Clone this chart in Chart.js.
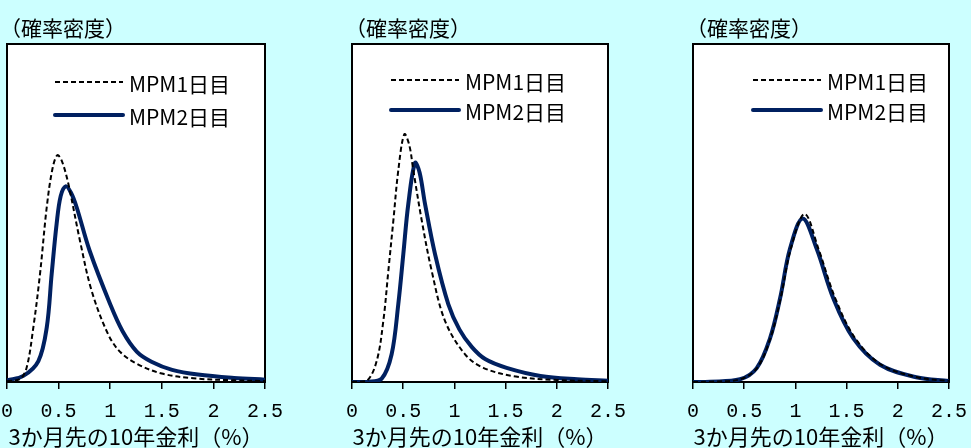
<!DOCTYPE html>
<html>
<head>
<meta charset="utf-8">
<script src="https://cdn.jsdelivr.net/npm/chart.js@4.4.0/dist/chart.umd.min.js"></script>
<style>
  html, body { margin: 0; padding: 0; background: #ccffff; width: 971px; height: 448px; overflow: hidden; }
  .panel { position: absolute; top: 0; height: 448px; }
</style>
</head>
<body>
<div class="panel" style="left:0;width:330px"><canvas id="chart1"></canvas></div>
<div class="panel" style="left:345px;width:330px"><canvas id="chart2"></canvas></div>
<div class="panel" style="left:686px;width:285px"><canvas id="chart3"></canvas></div>
<script>
/* data (density in units of plot height) */
const seriesNames = ["MPM1日目", "MPM2日目"];
const xTicks = [0, 0.5, 1, 1.5, 2, 2.5];
const yLabel = "（確率密度）";
const xLabel = "3か月先の10年金利（%）";

// panel 1
const p1Day1X = [0, 0.126, 0.19, 0.255, 0.32, 0.385, 0.44, 0.487, 0.53, 0.594, 0.707, 0.82, 0.98, 1.1, 1.257, 1.5, 1.805, 2.2, 2.5];
const p1Day1Y = [0.002, 0.009, 0.042, 0.161, 0.32, 0.517, 0.63, 0.671, 0.655, 0.587, 0.418, 0.27, 0.141, 0.088, 0.054, 0.025, 0.011, 0.005, 0.003];
const p1Day2X = [0, 0.158, 0.304, 0.385, 0.433, 0.481, 0.52, 0.569, 0.62, 0.675, 0.8, 1.0, 1.12, 1.257, 1.4, 1.6, 1.85, 2.2, 2.5];
const p1Day2Y = [0.005, 0.018, 0.062, 0.161, 0.32, 0.468, 0.55, 0.579, 0.56, 0.517, 0.389, 0.23, 0.15, 0.09, 0.06, 0.036, 0.022, 0.012, 0.007];

// panel 2
const p2Day1X = [0, 0.143, 0.241, 0.306, 0.355, 0.404, 0.452, 0.511, 0.56, 0.599, 0.681, 0.778, 0.908, 1.104, 1.282, 1.6, 2.0, 2.5];
const p2Day1Y = [0, 0.003, 0.062, 0.181, 0.329, 0.478, 0.626, 0.733, 0.7, 0.626, 0.478, 0.329, 0.181, 0.082, 0.042, 0.016, 0.006, 0.002];
const p2Day2X = [0, 0.15, 0.29, 0.387, 0.452, 0.501, 0.55, 0.615, 0.66, 0.713, 0.811, 0.941, 1.05, 1.169, 1.3, 1.51, 1.84, 2.2, 2.5];
const p2Day2Y = [0, 0.001, 0.01, 0.082, 0.23, 0.378, 0.527, 0.648, 0.62, 0.527, 0.378, 0.23, 0.155, 0.104, 0.068, 0.042, 0.018, 0.008, 0.004];

// panel 3
const p3Day1X = [0, 0.17, 0.46, 0.625, 0.755, 0.855, 0.955, 1.09, 1.225, 1.39, 1.585, 1.84, 2.19, 2.5];
const p3Day1Y = [0, 0.001, 0.008, 0.041, 0.129, 0.247, 0.394, 0.497, 0.394, 0.247, 0.129, 0.051, 0.014, 0.003];
const p3Day2X = [0, 0.166, 0.459, 0.622, 0.752, 0.85, 0.947, 1.071, 1.208, 1.371, 1.566, 1.826, 2.18, 2.5];
const p3Day2Y = [0, 0.001, 0.008, 0.041, 0.129, 0.247, 0.394, 0.484, 0.394, 0.247, 0.129, 0.051, 0.014, 0.003];

const NAVY = "#002060";
const JP = '"Noto Sans CJK JP", "Noto Sans", sans-serif';

function toPoints(xs, ys) {
  return xs.map((x, i) => ({ x: x, y: ys[i] }));
}

// white plot area, frame, caption and the in-plot legend
const panelDecor = {
  id: "panelDecor",
  beforeDraw(chart) {
    const a = chart.chartArea, ctx = chart.ctx;
    ctx.save();
    ctx.fillStyle = "#fff";
    ctx.fillRect(a.left, a.top, a.right - a.left, a.bottom - a.top);
    ctx.restore();
  },
  beforeDatasetsDraw(chart) {
    const a = chart.chartArea, ctx = chart.ctx;
    ctx.save();
    ctx.strokeStyle = "#000";
    ctx.lineWidth = 2;
    ctx.strokeRect(a.left, a.top, a.right - a.left, a.bottom - a.top);
    ctx.restore();
  },
  afterDraw(chart, args, opts) {
    const a = chart.chartArea, ctx = chart.ctx;
    ctx.save();
    ctx.fillStyle = "#000";
    ctx.textBaseline = "middle";
    ctx.font = "21px " + JP;
    ctx.fillText(yLabel, a.left - 7, 28);

    chart.data.datasets.forEach((ds, i) => {
      const y = opts.legY[i];
      const x0 = a.left + opts.legX;
      ctx.beginPath();
      ctx.strokeStyle = ds.borderColor;
      ctx.lineWidth = ds.borderWidth;
      ctx.lineCap = ds.borderDash ? "butt" : "round";
      ctx.setLineDash(ds.borderDash || []);
      ctx.moveTo(x0, y);
      ctx.lineTo(x0 + 68, y);
      ctx.stroke();
      ctx.setLineDash([]);
      ctx.font = "21px " + JP;
      ctx.fillStyle = "#000";
      ctx.fillText(ds.label, x0 + 74, y + 2);
    });
    ctx.restore();
  },
};

function makePanel(id, d1x, d1y, d2x, d2y, padRight, legX, legY) {
  const ctx = document.getElementById(id).getContext("2d");
  return new Chart(ctx, {
    type: "line",
    data: {
      datasets: [
        {
          label: seriesNames[0],
          data: toPoints(d1x, d1y),
          borderColor: "#000",
          borderWidth: 2,
          borderDash: [5, 3],
          pointRadius: 0,
          fill: false,
          tension: 0.35,
        },
        {
          label: seriesNames[1],
          data: toPoints(d2x, d2y),
          borderColor: NAVY,
          borderWidth: 4,
          pointRadius: 0,
          fill: false,
          tension: 0.35,
        },
      ],
    },
    options: {
      responsive: true,
      maintainAspectRatio: false,
      animation: false,
      layout: { padding: { left: 7, top: 44, right: padRight, bottom: 0 } },
      plugins: {
        legend: { display: false },
        tooltip: { enabled: false },
        panelDecor: { legX: legX, legY: legY },
      },
      scales: {
        x: {
          type: "linear",
          min: 0,
          max: 2.5,
          afterBuildTicks: (s) => { s.ticks = xTicks.map((v) => ({ value: v })); },
          afterFit: (s) => { s.height = 66; s.paddingLeft = 0; s.paddingRight = 0; },
          grid: { display: true, drawOnChartArea: false, drawTicks: true, tickLength: 7, color: "#000", lineWidth: 1.5 },
          border: { display: true, color: "#000", width: 2 },
          ticks: {
            color: "#000",
            font: { family: '"Liberation Mono", monospace', size: 20 },
            padding: 11,
            maxRotation: 0,
            autoSkip: false,
            callback: (v) => String(v),
          },
          title: {
            display: true,
            text: xLabel,
            color: "#000",
            font: { family: JP, size: 22, lineHeight: 1 },
            padding: { top: 0, bottom: 0 },
          },
        },
        y: { display: false, min: 0, max: 1 },
      },
    },
    plugins: [panelDecor],
  });
}

makePanel("chart1", p1Day1X, p1Day1Y, p1Day2X, p1Day2Y, 65, 48, [82, 115]);
makePanel("chart2", p2Day1X, p2Day1Y, p2Day2X, p2Day2Y, 67, 39, [80, 110]);
makePanel("chart3", p3Day1X, p3Day1Y, p3Day2X, p3Day2Y, 22, 60, [80, 110]);
</script>
</body>
</html>
